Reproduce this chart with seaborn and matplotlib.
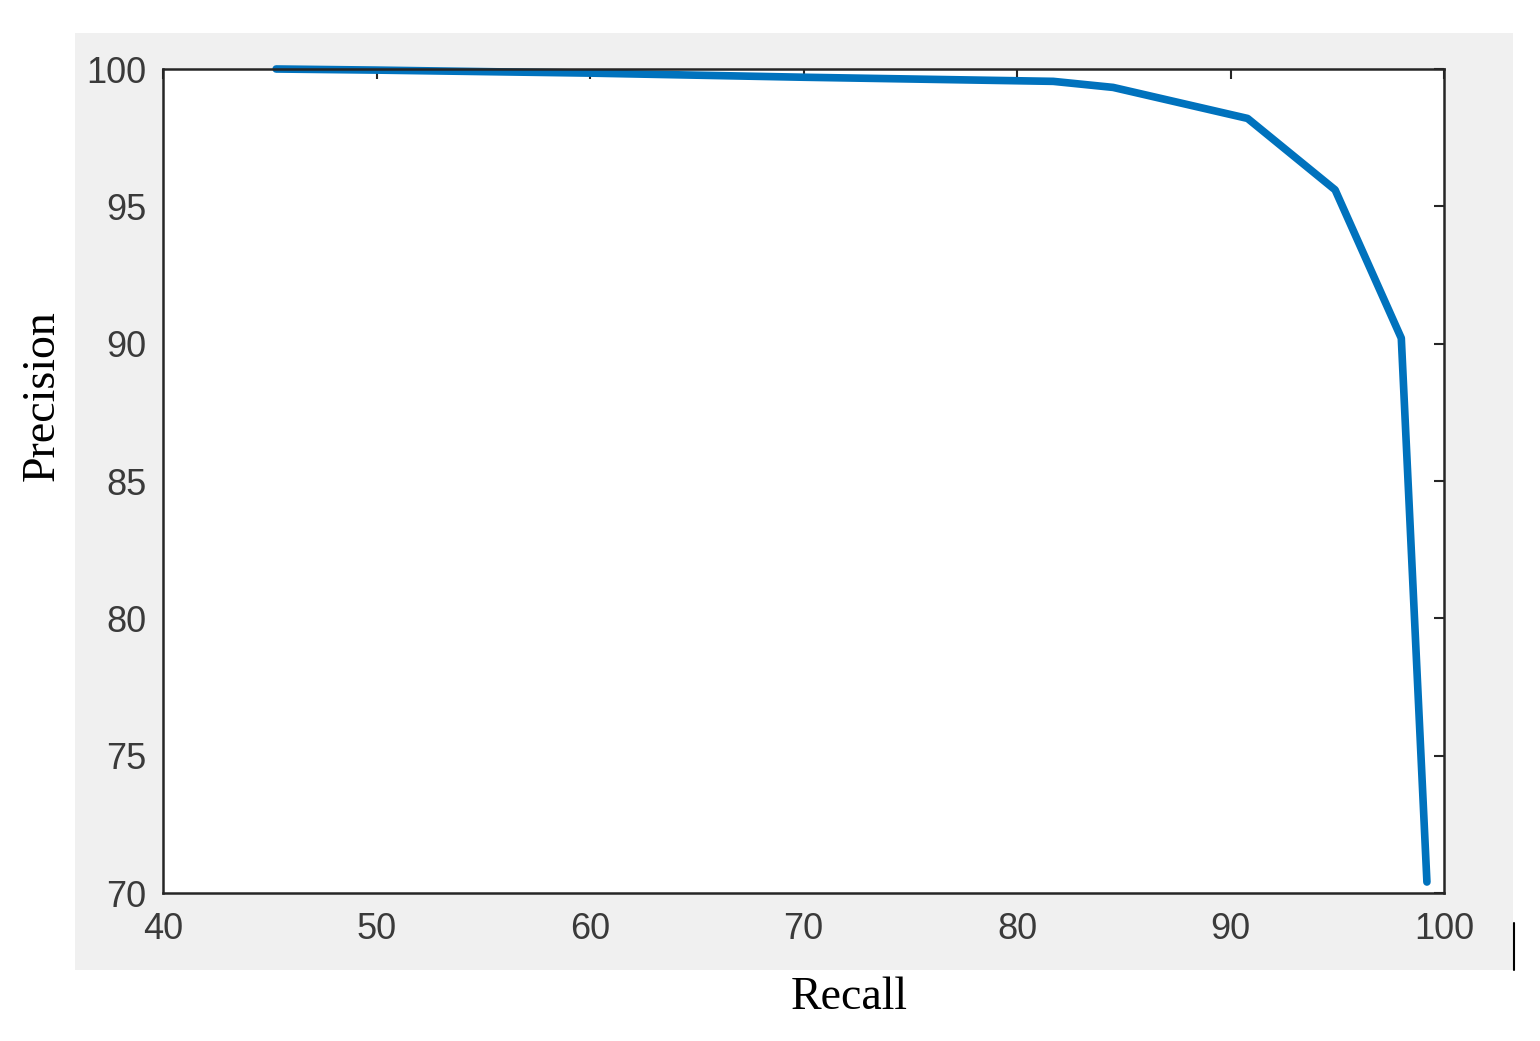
import pandas as pd
import numpy as np
import matplotlib
matplotlib.use("Agg")
import matplotlib.pyplot as plt
import seaborn as sns
from matplotlib.patches import Rectangle
from matplotlib.lines import Line2D

# precision-recall curve, values
recall = [45.3, 50.0, 60.0, 70.0, 81.7, 84.5, 90.8, 94.9, 98.0, 99.2]
precision = [100.0, 99.96, 99.85, 99.7, 99.55, 99.33, 98.2, 95.6, 90.2, 70.4]

xticks = [40, 50, 60, 70, 80, 90, 100]
yticks = [70, 75, 80, 85, 90, 95, 100]

df = pd.DataFrame({"Recall": recall, "Precision": precision})

sns.set_style("white")
plt.rcParams['font.family'] = ['Liberation Sans', 'DejaVu Sans']

W, H = 1540, 1041
fig = plt.figure(figsize=(W / 100, H / 100), dpi=100)
fig.patch.set_facecolor("white")

# grey matlab-like figure background
fig.patches.append(Rectangle((75 / W, 1 - 970 / H), (1513 - 75) / W, (970 - 33) / H,
                             transform=fig.transFigure, facecolor="#f0f0f0",
                             edgecolor="none", zorder=-5))
fig.add_artist(Line2D([1514 / W, 1514 / W], [1 - 923 / H, 1 - 970 / H],
                      transform=fig.transFigure, color="black", lw=1.5))

ax = fig.add_axes([163 / W, 1 - 893 / H, (1444 - 163) / W, (893 - 69) / H])
ax.set_zorder(2)
ax.set_facecolor("white")

sns.lineplot(data=df, x="Recall", y="Precision", sort=False, estimator=None,
             color="#0072BD", linewidth=5.5, ax=ax, clip_on=False)

ax.set_xlim(40, 100)
ax.set_ylim(70, 100)
ax.set_xticks(xticks)
ax.set_yticks(yticks)
ax.set_xlabel("")
ax.set_ylabel("")

for s in ax.spines.values():
    s.set_visible(True)
    s.set_color("#262626")
    s.set_linewidth(1.8)

ax.tick_params(axis="both", direction="in", length=7, width=1.5, colors="#262626",
               top=True, right=True, labelsize=26, labelcolor="#3a3a3a")
ax.tick_params(axis="y", pad=12)
ax.tick_params(axis="x", pad=14)

fig.text(849 / W, 1 - 998 / H, "Recall", family="Liberation Serif", fontsize=33,
         color="black", ha="center", va="center")
fig.text(42 / W, 1 - 396 / H, "Precision", family="Liberation Serif", fontsize=33,
         color="black", rotation=90, ha="center", va="center")

fig.savefig("out.png", dpi=100, facecolor=fig.get_facecolor())
